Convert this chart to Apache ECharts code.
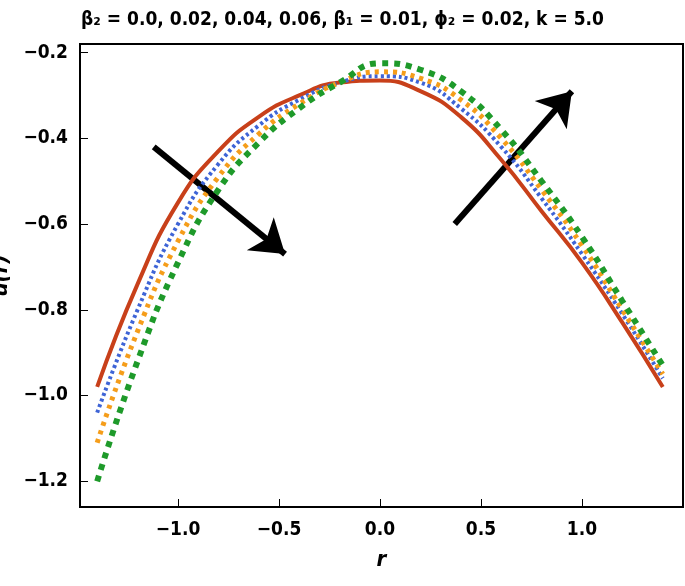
<!DOCTYPE html>
<html><head><meta charset="utf-8">
<script src="https://cdn.jsdelivr.net/npm/echarts@6/dist/echarts.min.js"></script>
<style>html,body{margin:0;background:#fff}#root{width:685px;height:586px}</style>
</head><body><div id="root"></div>
<script>
const xs = [-1.4, -1.2, -1.0, -0.8, -0.6, -0.4, -0.2, 0, 0.2, 0.4, 0.6, 0.8, 1.0, 1.2, 1.4];
const red = [-0.98, -0.74, -0.55, -0.43, -0.35, -0.30, -0.27, -0.265, -0.29, -0.35, -0.45, -0.57, -0.69, -0.83, -0.98];
const blue = [-1.04, -0.80, -0.60, -0.46, -0.37, -0.31, -0.27, -0.255, -0.27, -0.33, -0.42, -0.54, -0.67, -0.81, -0.96];
const orange = [-1.11, -0.85, -0.64, -0.49, -0.39, -0.32, -0.27, -0.245, -0.26, -0.31, -0.40, -0.52, -0.65, -0.80, -0.95];
const green = [-1.20, -0.92, -0.69, -0.52, -0.41, -0.33, -0.27, -0.225, -0.24, -0.29, -0.38, -0.50, -0.63, -0.78, -0.93];
const arrows = [[[-1.12, -0.42], [-0.47, -0.67]], [[0.37, -0.60], [0.95, -0.29]]];
const xTicks = [-1.0, -0.5, 0, 0.5, 1.0];
const yTicks = [-1.2, -1.0, -0.8, -0.6, -0.4, -0.2];

const fmt = v => (v < 0 ? '\u2212' : '') + Math.abs(v).toFixed(1);
const font = {fontFamily: 'DejaVu Sans Condensed, Liberation Sans Narrow, Arial', fontWeight: 'bold', color: '#000'};
function mk(d, color, type, w) {
  return {type: 'line', data: xs.map((x, i) => [x, d[i]]), smooth: true, showSymbol: false,
    lineStyle: {color, width: w, type}};
}
const chart = echarts.init(document.getElementById('root'));
chart.setOption({
  animation: false,
  title: {text: 'β\u2082 = 0.0, 0.02, 0.04, 0.06, β\u2081 = 0.01, ϕ\u2082 = 0.02, k = 5.0', left: 'center', top: 6,
    textStyle: Object.assign({fontSize: 19}, font)},
  grid: {left: 80, right: 2, top: 44, bottom: 79, outerBoundsMode: 'none', containLabel: false,
    show: true, borderColor: '#000', borderWidth: 2},
  xAxis: {type: 'value', min: -1.485, max: 1.5, name: 'r', nameLocation: 'middle', nameGap: 42,
    nameTextStyle: Object.assign({fontSize: 22, fontStyle: 'italic'}, font),
    axisLine: {onZero: false, lineStyle: {color: '#000', width: 2}}, splitLine: {show: false},
    axisTick: {inside: true, customValues: xTicks, length: 8, lineStyle: {color: '#000'}},
    axisLabel: {customValues: xTicks, formatter: fmt, fontSize: 19, margin: 14, ...font}},
  yAxis: {type: 'value', min: -1.26, max: -0.18, name: 'u(r)', nameLocation: 'middle', nameGap: 58,
    nameTextStyle: Object.assign({fontSize: 22, fontStyle: 'italic'}, font),
    axisLine: {onZero: false, lineStyle: {color: '#000', width: 2}}, splitLine: {show: false},
    axisTick: {inside: true, customValues: yTicks, length: 8, lineStyle: {color: '#000'}},
    axisLabel: {customValues: yTicks, formatter: fmt, fontSize: 19, margin: 12, ...font}},
  series: [
    mk(red, '#c8401a', 'solid', 4),
    mk(blue, '#3e64d6', [3, 3], 4),
    mk(orange, '#f59d1a', [4, 5], 5),
    mk(green, '#1e9a2a', [6, 6], 6),
    {type: 'lines', coordinateSystem: 'cartesian2d', data: arrows.map(c => ({coords: c})),
      symbol: ['none', 'arrow'], symbolSize: 32, lineStyle: {color: '#000', width: 6, opacity: 1}}
  ]
});
</script></body></html>
